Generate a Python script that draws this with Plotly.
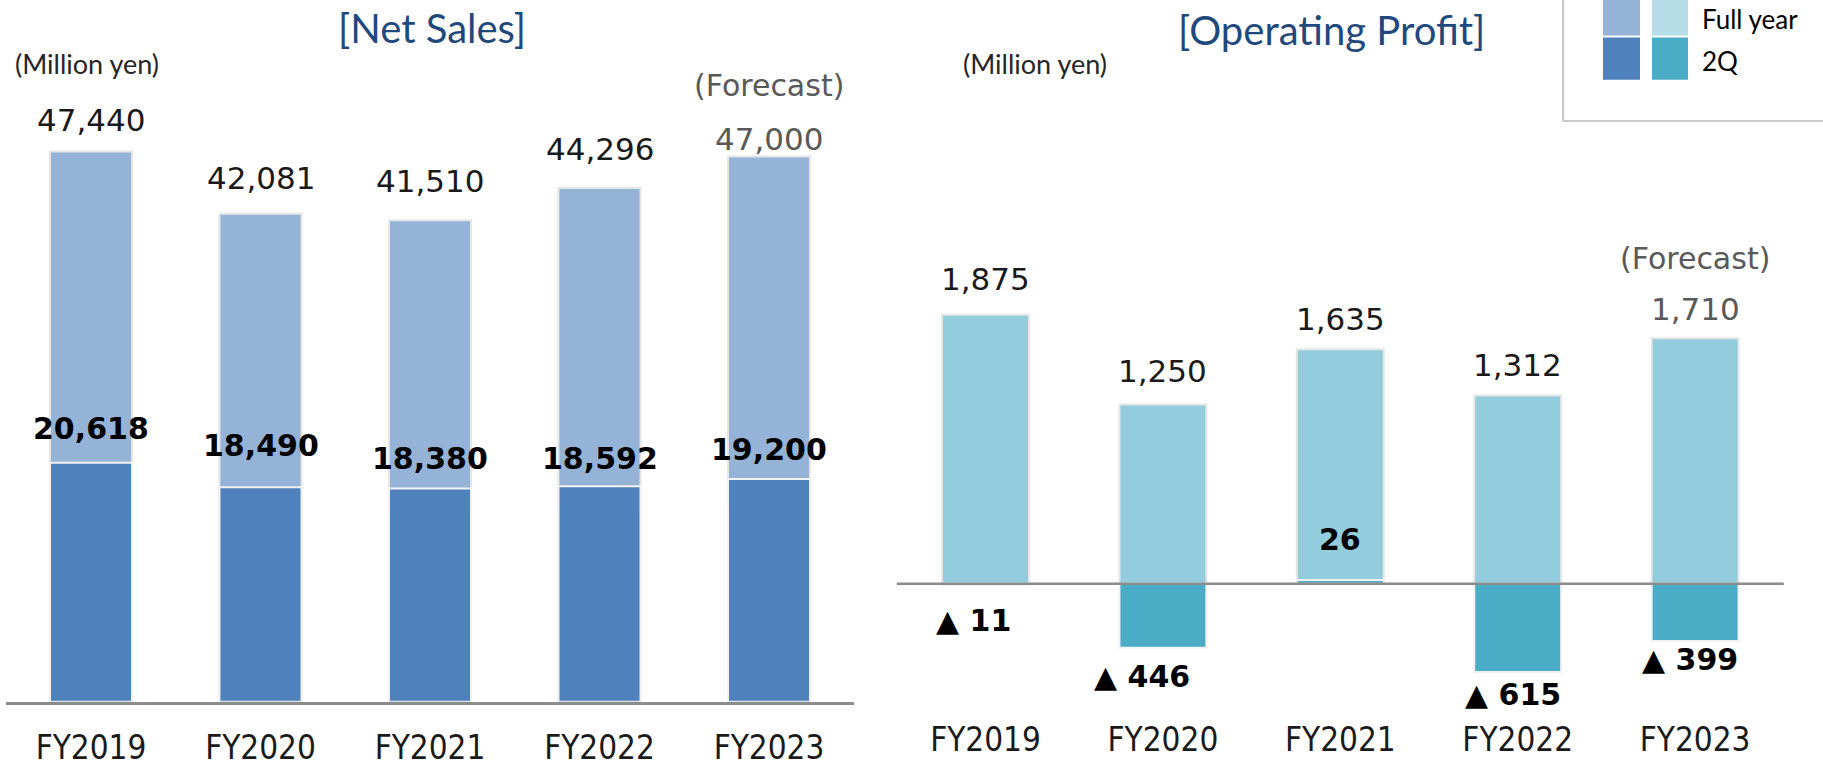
import plotly.graph_objects as go

# data
years = ['FY2019', 'FY2020', 'FY2021', 'FY2022', 'FY2023']
sales_full = [47440, 42081, 41510, 44296, 47000]
sales_2q = [20618, 18490, 18380, 18592, 19200]
profit_full = [1875, 1250, 1635, 1312, 1710]
profit_2q = [-11, -446, 26, -615, -399]

W, H = 1823, 767

# colours
c_sales_full = '#95B3D7'
c_sales_2q = '#4F81BD'
c_prof_full = '#93CDDD'
c_prof_2q = '#4BACC6'
c_legend_prof_full = '#B7DEE8'

num_font = 'DejaVu Sans'
txt_font = 'Lato'

fig = go.Figure()

fig.add_trace(go.Bar(x=years, y=sales_full, width=0.484, marker_color=c_sales_full,
                     marker_line=dict(color='#E6E6E6', width=2), xaxis='x', yaxis='y',
                     showlegend=False, hoverinfo='skip'))
fig.add_trace(go.Bar(x=years, y=sales_2q, width=0.484, marker_color=c_sales_2q,
                     marker_line=dict(color='#F2F2F2', width=2), xaxis='x', yaxis='y',
                     showlegend=False, hoverinfo='skip'))
fig.add_trace(go.Bar(x=years, y=profit_full, width=0.49, marker_color=c_prof_full,
                     marker_line=dict(color='#E6E6E6', width=2), xaxis='x2', yaxis='y2',
                     showlegend=False, hoverinfo='skip'))
fig.add_trace(go.Bar(x=years, y=profit_2q, width=0.49, marker_color=c_prof_2q,
                     marker_line=dict(color='#F2F2F2', width=2), xaxis='x2', yaxis='y2',
                     showlegend=False, hoverinfo='skip'))


def fmt(v):
    return f'{v:,}' if v >= 0 else '\u25b2 ' + f'{abs(v):,}'


ann = []
# label offsets in px (layout only)
sales_full_shift = [32, 36, 39, 39, 18]
sales_2q_shift = [34, 42, 30, 28, 30]
prof_full_shift = [36, 33, 30, 30, 29]
prof_2q_shift = [-35, -29, 41, -22, -18]
prof_2q_xshift = [-12, -21, 0, -5, -5]

for i, yr in enumerate(years):
    last = i == len(years) - 1
    ann.append(dict(x=yr, y=sales_full[i], xref='x', yref='y', text=fmt(sales_full[i]),
                    showarrow=False, yshift=sales_full_shift[i],
                    font=dict(family=num_font, size=31, color='#595959' if last else '#1a1a1a')))
    ann.append(dict(x=yr, y=sales_2q[i], xref='x', yref='y', text='<b>' + fmt(sales_2q[i]) + '</b>',
                    showarrow=False, yshift=sales_2q_shift[i],
                    font=dict(family=num_font, size=30, color='#000000')))
    ann.append(dict(x=yr, y=profit_full[i], xref='x2', yref='y2', text=fmt(profit_full[i]),
                    showarrow=False, yshift=prof_full_shift[i],
                    font=dict(family=num_font, size=31, color='#595959' if last else '#1a1a1a')))
    ann.append(dict(x=yr, y=profit_2q[i], xref='x2', yref='y2', text='<b>' + fmt(profit_2q[i]) + '</b>',
                    showarrow=False, yshift=prof_2q_shift[i], xshift=prof_2q_xshift[i],
                    font=dict(family=num_font, size=30, color='#000000')))

# forecast notes
ann.append(dict(x=years[-1], y=sales_full[-1], xref='x', yref='y', text='(Forecast)',
                showarrow=False, yshift=71, font=dict(family=num_font, size=30, color='#595959')))
ann.append(dict(x=years[-1], y=profit_full[-1], xref='x2', yref='y2', text='(Forecast)',
                showarrow=False, yshift=80, font=dict(family=num_font, size=30, color='#595959')))


def note(x, y, text, size, color, xanchor='center'):
    return dict(x=x / W, y=1 - y / H, xref='paper', yref='paper', text=text, showarrow=False,
                xanchor=xanchor, yanchor='middle', font=dict(family=txt_font, size=size, color=color))


# titles, units, legend texts
ann.append(note(432, 28, '[Net Sales]', 40, '#1F497D'))
ann.append(note(1331, 30, '[Operating Profit]', 40, '#1F497D'))
ann.append(note(87, 65, '(Million yen)', 27, '#262626'))
ann.append(note(1035, 65, '(Million yen)', 27, '#262626'))
ann.append(note(1700, 19, 'Full year', 26, '#000000', 'left'))
ann.append(note(1700, 62, '2Q', 26, '#000000', 'left'))


def px_rect(x0, y0, x1, y1, color):
    return dict(type='rect', xref='paper', yref='paper', x0=x0 / W, x1=x1 / W,
                y0=1 - y1 / H, y1=1 - y0 / H, fillcolor=color, line=dict(width=0), layer='above')


shapes = [
    # legend box border
    dict(type='line', xref='paper', yref='paper', x0=1563 / W, x1=1563 / W, y0=1 - 123 / H, y1=1,
         line=dict(color='#C8C8C8', width=2)),
    dict(type='line', xref='paper', yref='paper', x0=1563 / W, x1=1, y0=1 - 123 / H, y1=1 - 123 / H,
         line=dict(color='#C8C8C8', width=2)),
    px_rect(1603, 0, 1640, 36, c_sales_full),
    px_rect(1652, 0, 1688, 36, c_legend_prof_full),
    px_rect(1603, 38, 1640, 81, c_sales_2q),
    px_rect(1652, 38, 1688, 81, c_prof_2q),
    # operating profit zero line
    dict(type='line', xref='x2 domain', yref='y2', x0=0, x1=1, y0=0, y1=0,
         line=dict(color='#8C8C8C', width=2.5), layer='above'),
]

ybot = (H - 713) / H
tickfont = dict(family='DejaVu Sans Condensed, DejaVu Sans', size=33, color='#1a1a1a')

fig.update_layout(
    width=W, height=H, autosize=False,
    margin=dict(l=0, r=0, t=0, b=0),
    paper_bgcolor='white', plot_bgcolor='white',
    barmode='overlay',
    annotations=ann, shapes=shapes,
    xaxis=dict(domain=[6.25 / W, 853.75 / W], range=[-0.5, 4.5], showline=True,
               linecolor='#8C8C8C', linewidth=2.5, ticks='', tickfont=tickfont,
               ticklabelstandoff=15, showgrid=False),
    yaxis=dict(domain=[ybot, 1], range=[0, 60500], visible=False, showgrid=False),
    xaxis2=dict(domain=[896.8 / W, 1783.8 / W], range=[-0.5, 4.5], anchor='y2', showline=False,
                ticks='', tickfont=tickfont, ticklabelstandoff=15, showgrid=False),
    yaxis2=dict(domain=[ybot, 1], range=[-823, 4068], anchor='x2', visible=False,
                showgrid=False, zeroline=False),
)

# the page body has a default 8px margin; drop it so the figure fills the window
fig.write_html('out.html', config={'displayModeBar': False},
               post_script="document.body.style.margin='0px';")
